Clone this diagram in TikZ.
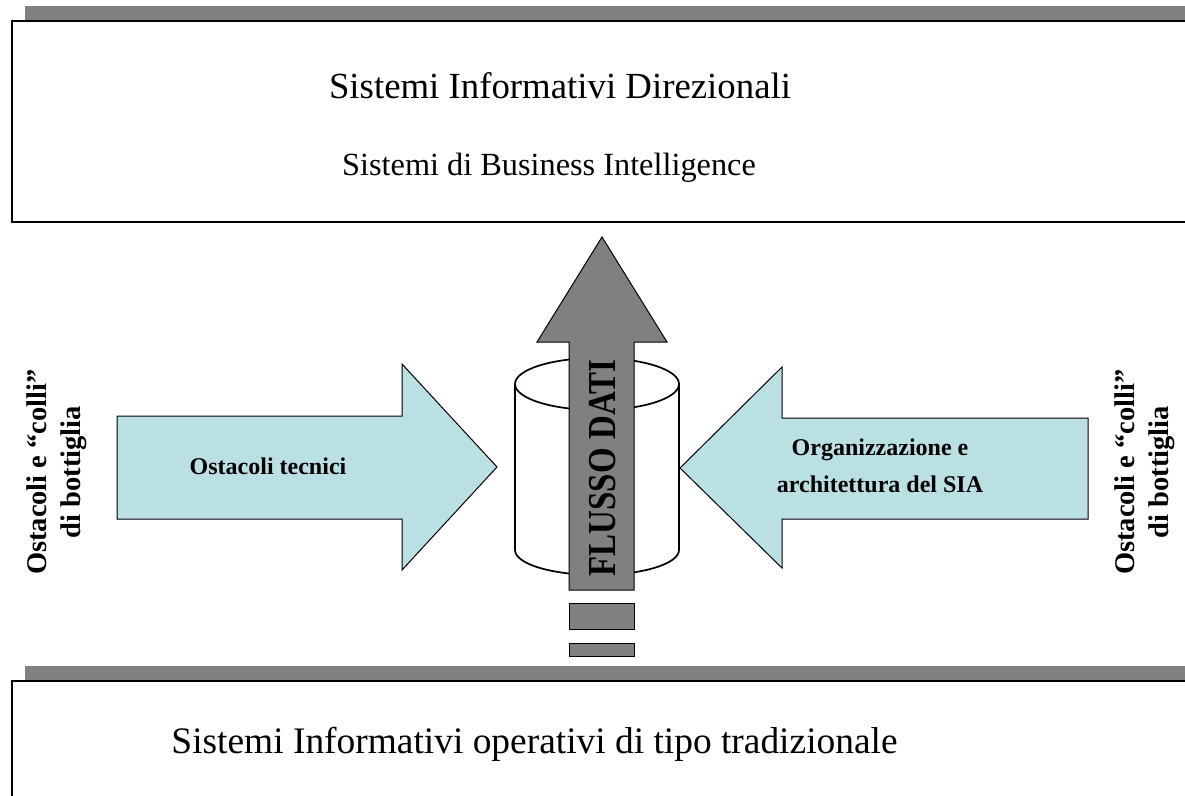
\documentclass[tikz,border=0pt]{standalone}
\usepackage{fontspec}
\setmainfont{Liberation Serif}
\definecolor{barGrey}{RGB}{128,128,128}
\definecolor{paleCyan}{RGB}{187,224,227}
\tikzset{
  panel/.style={draw=black, line width=1.5pt, fill=white},
  shadowbar/.style={fill=barGrey, draw=none},
  bluearrow/.style={fill=paleCyan, draw=black, line width=1pt, line join=miter},
  greyarrow/.style={fill=barGrey, draw=black, line width=1pt, line join=miter},
  sidelabel/.style={font=\bfseries\fontsize{28.5}{34}\selectfont, rotate=90, align=center, inner sep=0pt},
  arrowlabel/.style={font=\bfseries\fontsize{24}{37}\selectfont, align=center, inner sep=0pt},
}
\begin{document}
\begin{tikzpicture}[x=1pt, y=-1pt]
  \useasboundingbox (0,0) rectangle (1185,795);
  \clip (0,0) rectangle (1185,795);

  % upper panel with its shadow band
  \fill[shadowbar] (25,6) rectangle (1200,21);
  \draw[panel] (12,21) rectangle (1200,222);
  \node[font=\fontsize{36.8}{40}\selectfont, anchor=base] (sid) at (560,98) {Sistemi Informativi Direzionali};
  \node[font=\fontsize{32.3}{36}\selectfont, anchor=base] (sbi) at (549,175) {Sistemi di Business Intelligence};

  % lower panel with its shadow band
  \fill[shadowbar] (25,666) rectangle (1200,681);
  \draw[panel] (12,681) rectangle (1200,810);
  \node[font=\fontsize{37.4}{40}\selectfont, anchor=base] (sio) at (534.5,753) {Sistemi Informativi operativi di tipo tradizionale};

  % database cylinder
  \draw[line width=1.7pt, fill=white] (515,384) -- (515,550) arc[start angle=180, end angle=0, x radius=82, y radius=25] -- (679,384);
  \draw[line width=1.7pt, fill=white] (597,384) ellipse[x radius=82, y radius=26];

  % upward data-flow arrow
  \draw[greyarrow] (569,590) -- (569,342) -- (537,342) -- (602,237) -- (667,342) -- (634,342) -- (634,590) -- cycle;
  \node[font=\bfseries\fontsize{33}{36}\selectfont, rotate=90, yscale=1.2, inner sep=0pt] (flusso) at (603,468) {FLUSSO DATI};
  \draw[fill=barGrey, draw=black, line width=0.8pt] (569,603) rectangle (634,629);
  \draw[fill=barGrey, draw=black, line width=0.8pt] (569,643) rectangle (634,656);

  % arrow from the left
  \draw[bluearrow] (117,416) -- (402,416) -- (402,364) -- (497,467) -- (402,570) -- (402,519) -- (117,519) -- cycle;
  \node[arrowlabel] (tecnici) at (268,466) {Ostacoli tecnici};

  % arrow from the right
  \draw[bluearrow] (1088,418) -- (782,418) -- (782,367) -- (680,468) -- (782,568) -- (782,519) -- (1088,519) -- cycle;
  \node[arrowlabel, anchor=base] (org) at (880,492) {Organizzazione e\\architettura del SIA};

  % vertical captions on both sides
  \node[sidelabel] (colliL) at (57,472) {Ostacoli e “colli”\\di bottiglia};
  \node[sidelabel] (colliR) at (1145,472) {Ostacoli e “colli”\\di bottiglia};
\end{tikzpicture}
\end{document}
